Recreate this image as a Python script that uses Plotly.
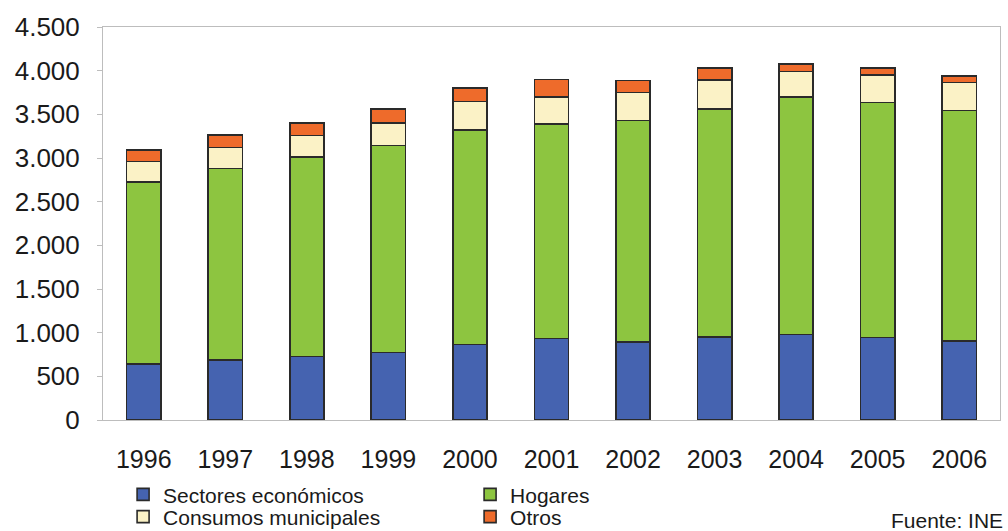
import plotly.graph_objects as go

years = ["1996", "1997", "1998", "1999", "2000", "2001", "2002", "2003", "2004", "2005", "2006"]
sectores = [640, 689, 727, 773, 865, 933, 894, 951, 979, 944, 906]
hogares = [2086, 2189, 2285, 2368, 2458, 2457, 2536, 2612, 2718, 2691, 2638]
municipales = [235, 243, 246, 259, 324, 310, 320, 331, 293, 317, 320]
otros = [134, 145, 142, 163, 156, 200, 137, 134, 84, 76, 76]
y_ticks = [0, 500, 1000, 1500, 2000, 2500, 3000, 3500, 4000, 4500]

FONT = "Liberation Sans"
line = dict(color="#2a2a2a", width=1.6)

fig = go.Figure()
fig.add_bar(x=years, y=sectores, name="Sectores económicos",
            marker=dict(color="#4563B0", line=line), legend="legend")
fig.add_bar(x=years, y=hogares, name="Hogares",
            marker=dict(color="#8DC540", line=line), legend="legend")
fig.add_bar(x=years, y=municipales, name="Consumos municipales",
            marker=dict(color="#FBF2C6", line=line), legend="legend2")
fig.add_bar(x=years, y=otros, name="Otros",
            marker=dict(color="#EE6B2B", line=line), legend="legend2")

leg_common = dict(orientation="h", xanchor="left", yanchor="top",
                  xref="paper", yref="container",
                  entrywidth=302, entrywidthmode="pixels", traceorder="normal",
                  font=dict(family=FONT, size=21, color="#1a1a1a"),
                  itemclick=False, bgcolor="rgba(0,0,0,0)", tracegroupgap=0)

fig.update_layout(
    barmode="stack",
    bargap=0.58,
    width=1008, height=531,
    margin=dict(l=103, r=8, t=27, b=111, autoexpand=False),
    paper_bgcolor="white", plot_bgcolor="white",
    font=dict(family=FONT, size=20, color="#1a1a1a"),
    separators=",.",
    showlegend=True,
    legend=dict(x=0.0224, y=0.1070, **leg_common),
    legend2=dict(x=0.0224, y=0.0650, **leg_common),
    annotations=[dict(text="Fuente: INE", xref="paper", yref="paper",
                      x=1.0056, y=-0.222, xanchor="right", yanchor="top",
                      showarrow=False, font=dict(family=FONT, size=21, color="#1a1a1a"))],
)

fig.update_xaxes(
    showline=True, linecolor="#bdbdbd", linewidth=1, mirror=True, automargin=False,
    ticks="", tickfont=dict(family=FONT, size=25), ticklabelstandoff=17,
    showgrid=False,
)
fig.update_yaxes(
    range=[0, 4500], tickvals=y_ticks, tickformat=",d", automargin=False,
    showline=True, linecolor="#bdbdbd", linewidth=1, mirror=True,
    ticks="outside", ticklen=5, tickcolor="#bdbdbd", ticklabelstandoff=12,
    tickfont=dict(family=FONT, size=26), showgrid=False, zeroline=False,
)

fig.write_html(
    "out.html",
    config={"displayModeBar": False},
    post_script="document.body.style.margin='0';document.body.style.overflow='hidden';",
)
